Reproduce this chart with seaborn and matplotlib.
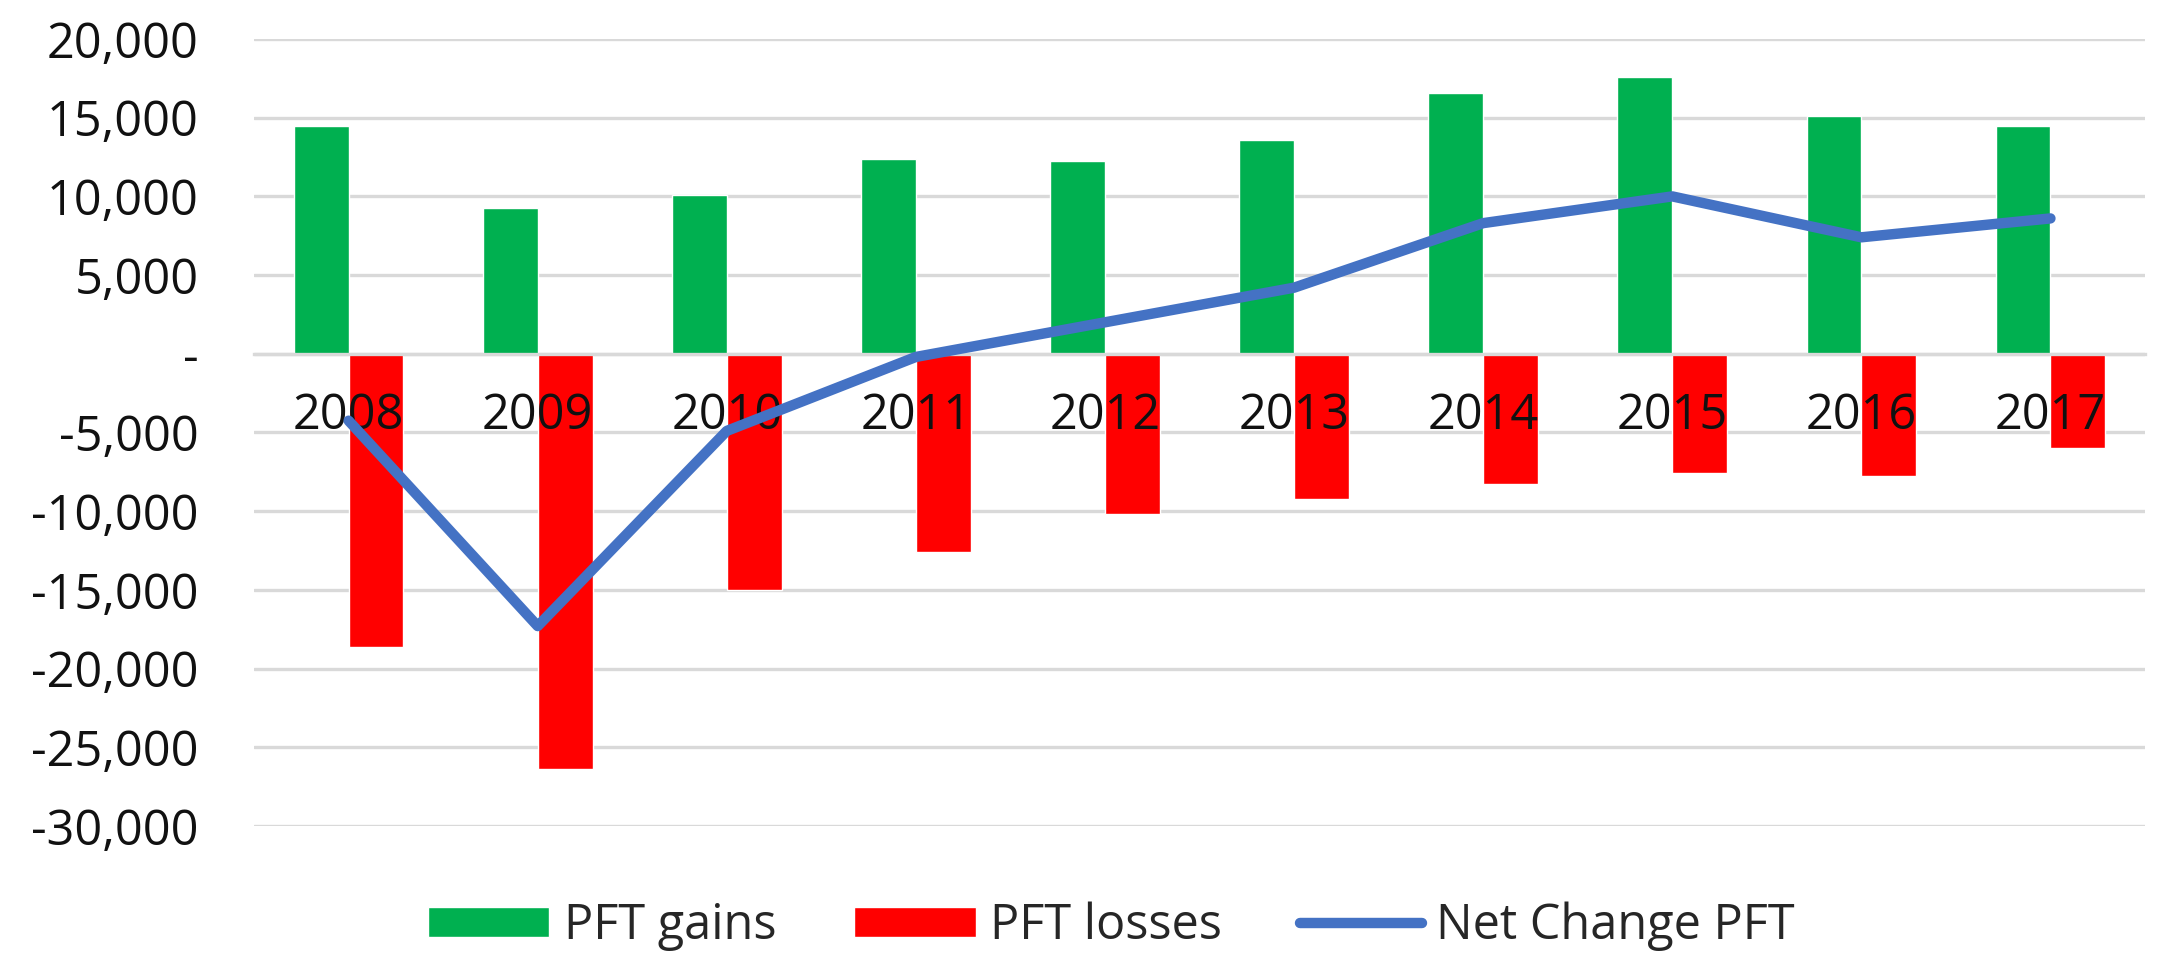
import numpy as np
import pandas as pd
import matplotlib
matplotlib.use("Agg")
import matplotlib.pyplot as plt
import seaborn as sns
from matplotlib.ticker import FuncFormatter, MultipleLocator
from matplotlib.patches import Patch
from matplotlib.lines import Line2D

# ── Data ─────────────────────────────────────────────────────
years = ["2008", "2009", "2010", "2011", "2012", "2013", "2014", "2015", "2016", "2017"]
pft_gains = [14450, 9270, 10100, 12400, 12230, 13550, 16570, 17570, 15100, 14450]
pft_losses = [-18600, -26350, -15000, -12600, -10170, -9200, -8260, -7600, -7770, -5960]
net_change = [-4250, -17300, -4900, -200, 2000, 4200, 8300, 10000, 7400, 8600]

GREEN = "#00B050"
RED = "#FF0000"
BLUE = "#4472C4"
FS = 35

# ── Style ────────────────────────────────────────────────────
sns.set_style("white")
plt.rcParams["font.family"] = ["Open Sans", "DejaVu Sans"]
plt.rcParams["axes.unicode_minus"] = False

df = pd.DataFrame({
    "year": years * 2,
    "value": pft_gains + pft_losses,
    "series": ["PFT gains"] * len(years) + ["PFT losses"] * len(years),
})

fig = plt.figure(figsize=(21.77, 9.67), dpi=100)
ax = fig.add_axes([0.1167, 0.1458, 0.8686, 0.8139])
ax.set_axisbelow(True)

sns.barplot(data=df, x="year", y="value", hue="series",
            palette={"PFT gains": GREEN, "PFT losses": RED},
            width=0.58, dodge=True, saturation=1, legend=False, ax=ax)
sns.lineplot(x=np.arange(len(years)), y=net_change, color=BLUE, lw=7.5,
             solid_capstyle="round", ax=ax, zorder=4)

ax.set_ylim(-30000, 20000)
ax.set_xlim(-0.5, len(years) - 0.5)
ax.yaxis.set_major_locator(MultipleLocator(5000))
ax.yaxis.set_major_formatter(FuncFormatter(lambda v, p: "-" if v == 0 else f"{v:,.0f}"))
ax.grid(axis="y", color="#D9D9D9", lw=2.4)
ax.grid(axis="x", visible=False)

for s in ["left", "right", "top"]:
    ax.spines[s].set_visible(False)
ax.spines["bottom"].set_position(("data", 0))
ax.spines["bottom"].set_color("#D9D9D9")
ax.spines["bottom"].set_linewidth(2.4)

ax.tick_params(axis="y", length=0, pad=40, labelsize=FS, labelcolor="#111111")
ax.tick_params(axis="x", length=0, pad=27, labelsize=FS, labelcolor="#111111")
ax.xaxis.set_zorder(3)
ax.set_xlabel("")
ax.set_ylabel("")

handles = [
    Patch(facecolor=GREEN, label="PFT gains"),
    Patch(facecolor=RED, label="PFT losses"),
    Line2D([0], [0], color=BLUE, lw=7.5, solid_capstyle="round", label="Net Change PFT"),
]
fig.legend(handles=handles, loc="center", bbox_to_anchor=(0.5105, 0.042), ncol=3,
           frameon=False, fontsize=FS, handlelength=2.5, handleheight=0.55,
           handletextpad=0.3, columnspacing=1.6)

fig.savefig("out.png", dpi=100)
